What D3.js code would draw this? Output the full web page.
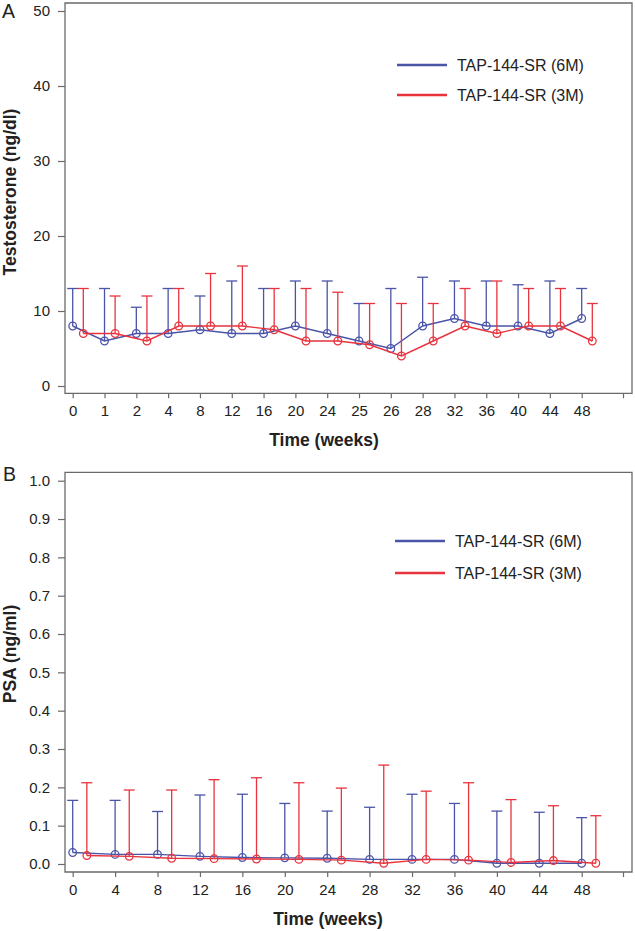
<!DOCTYPE html>
<html>
<head>
<meta charset="utf-8">
<script src="https://cdn.jsdelivr.net/npm/d3@7"></script>
<style>
  body { margin: 0; background: #fff; }
  text { font-family: Arial, "Liberation Sans", sans-serif; fill: #222; }
</style>
</head>
<body>
<svg id="chart" width="635" height="931"></svg>
<script>
// series names + colours
const seriesNames = ["TAP-144-SR (6M)", "TAP-144-SR (3M)"];
const seriesColors = ["#4a54a8", "#e8333d"];

// panel A: testosterone
const weeksA = ["0","1","2","4","8","12","16","20","24","25","26","28","32","36","40","44","48"];
const testo6M      = [8, 6, 7, 7, 7.5, 7, 7, 8, 7, 6, 5, 8, 9, 8, 8, 7, 9];
const testo6MUpper = [13, 13, 10.5, 13, 12, 14, 13, 14, 14, 11, 13, 14.5, 14, 14, 13.5, 14, 13];
const testo3M      = [7, 7, 6, 8, 8, 8, 7.5, 6, 6, 5.5, 4, 6, 8, 7, 8, 8, 6];
const testo3MUpper = [13, 12, 12, 13, 15, 16, 13, 13, 12.5, 11, 11, 11, 13, 14, 13, 13, 11];
const testoTicks = [0, 10, 20, 30, 40, 50];

// panel B: PSA
const weeksB = ["0","4","8","12","16","20","24","28","32","36","40","44","48"];
const psa6M      = [0.03, 0.025, 0.025, 0.02, 0.017, 0.016, 0.015, 0.012, 0.012, 0.012, 0.002, 0.002, 0.002];
const psa6MUpper = [0.166, 0.166, 0.137, 0.18, 0.182, 0.158, 0.138, 0.148, 0.182, 0.158, 0.138, 0.135, 0.121];
const psa3M      = [0.022, 0.02, 0.015, 0.014, 0.013, 0.012, 0.01, 0.002, 0.012, 0.01, 0.004, 0.009, 0.002];
const psa3MUpper = [0.212, 0.193, 0.193, 0.22, 0.225, 0.212, 0.198, 0.258, 0.19, 0.212, 0.168, 0.152, 0.126];
const psaTicks = [0, 0.1, 0.2, 0.3, 0.4, 0.5, 0.6, 0.7, 0.8, 0.9, 1.0];

const svg = d3.select("#chart");

function drawPanel(p) {
  const g = svg.append("g");
  const left = 65, right = 632;

  const x = d3.scalePoint().domain(p.weeks).range([72.7, 581.7]);
  const y = d3.scaleLinear().domain(p.yDomain).range([p.yBottom, p.yTop]);
  const off = x.step() / 3;

  // frame
  g.append("path")
    .attr("d", `M${left},${p.top}V${p.bottom}H${right}V${p.top}Z`)
    .attr("fill", "none")
    .attr("stroke", "#6a6a6a")
    .attr("stroke-width", 1.3);

  // y axis
  const yAxis = g.append("g")
    .attr("transform", `translate(${left},0)`)
    .call(d3.axisLeft(y).tickValues(p.yTicks).tickSize(7).tickPadding(8).tickFormat(p.yFormat));
  yAxis.select(".domain").remove();
  yAxis.selectAll(".tick line").attr("stroke", "#6a6a6a").attr("stroke-width", 1.2);
  yAxis.selectAll("text").attr("font-size", 15).style("fill", "#222");

  // x axis
  const xAxis = g.append("g")
    .attr("transform", `translate(0,${p.bottom})`)
    .call(d3.axisBottom(x).tickSize(5).tickPadding(7));
  xAxis.select(".domain").remove();
  xAxis.selectAll(".tick line").attr("stroke", "#6a6a6a").attr("stroke-width", 1.2);
  xAxis.selectAll("text").attr("font-size", 15).style("fill", "#222");
  xAxis.append("line")
    .attr("x1", right - 8.5).attr("x2", right - 8.5)
    .attr("y1", 0).attr("y2", 5)
    .attr("stroke", "#6a6a6a").attr("stroke-width", 1.2);

  // series
  p.series.forEach((s, si) => {
    const color = seriesColors[si];
    const dx = si === 0 ? 0 : off;
    const pts = p.weeks.map((w, i) => ({ x: x(w) + dx, mean: s.mean[i], upper: s.upper[i] }));
    const sg = g.append("g");

    sg.selectAll("line.err")
      .data(pts)
      .join("line")
        .attr("class", "err")
        .attr("x1", d => d.x).attr("x2", d => d.x)
        .attr("y1", d => y(d.mean)).attr("y2", d => y(d.upper))
        .attr("stroke", color).attr("stroke-width", 1.3);

    sg.selectAll("line.cap")
      .data(pts)
      .join("line")
        .attr("class", "cap")
        .attr("x1", d => d.x - 5.5).attr("x2", d => d.x + 5.5)
        .attr("y1", d => y(d.upper)).attr("y2", d => y(d.upper))
        .attr("stroke", color).attr("stroke-width", 1.3);

    sg.append("path")
      .datum(pts)
      .attr("d", d3.line().x(d => d.x).y(d => y(d.mean)))
      .attr("fill", "none")
      .attr("stroke", color).attr("stroke-width", 1.4);

    sg.selectAll("circle")
      .data(pts)
      .join("circle")
        .attr("cx", d => d.x)
        .attr("cy", d => y(d.mean))
        .attr("r", 3.8)
        .attr("fill", "none")
        .attr("stroke", color).attr("stroke-width", 1.3);
  });

  // legend
  seriesNames.forEach((name, i) => {
    const ly = p.legendY + i * p.legendGap;
    g.append("line")
      .attr("x1", p.legendX).attr("x2", p.legendX + 50)
      .attr("y1", ly).attr("y2", ly)
      .attr("stroke", seriesColors[i]).attr("stroke-width", 2.6);
    g.append("text")
      .attr("x", p.legendX + 60).attr("y", ly + 5.5)
      .attr("font-size", 16)
      .text(name);
  });

  // titles
  g.append("text")
    .attr("transform", `translate(16,${p.yTitleY}) rotate(-90)`)
    .attr("text-anchor", "middle")
    .attr("font-size", 17.5).attr("font-weight", "bold")
    .text(p.yTitle);

  g.append("text")
    .attr("x", p.xTitleX).attr("y", p.xTitleBase)
    .attr("text-anchor", "middle")
    .attr("font-size", 17.5).attr("font-weight", "bold")
    .text("Time (weeks)");

  g.append("text")
    .attr("x", p.letterX).attr("y", p.letterBase)
    .attr("font-size", 19.5)
    .text(p.letter);
}

drawPanel({
  letter: "A", letterX: 2, letterBase: 17.5,
  top: 3, bottom: 393.3, yTop: 11, yBottom: 386,
  weeks: weeksA, yDomain: [0, 50], yTicks: testoTicks, yFormat: d3.format("d"),
  series: [{ mean: testo6M, upper: testo6MUpper }, { mean: testo3M, upper: testo3MUpper }],
  legendX: 397, legendY: 65, legendGap: 30,
  yTitle: "Testosterone (ng/dl)", yTitleY: 192,
  xTitleX: 324, xTitleBase: 446
});

drawPanel({
  letter: "B", letterX: 3, letterBase: 481,
  top: 472.3, bottom: 872, yTop: 480.7, yBottom: 864,
  weeks: weeksB, yDomain: [0, 1], yTicks: psaTicks, yFormat: d3.format(".1f"),
  series: [{ mean: psa6M, upper: psa6MUpper }, { mean: psa3M, upper: psa3MUpper }],
  legendX: 395, legendY: 541, legendGap: 32,
  yTitle: "PSA (ng/ml)", yTitleY: 654,
  xTitleX: 328, xTitleBase: 925
});
</script>
</body>
</html>
